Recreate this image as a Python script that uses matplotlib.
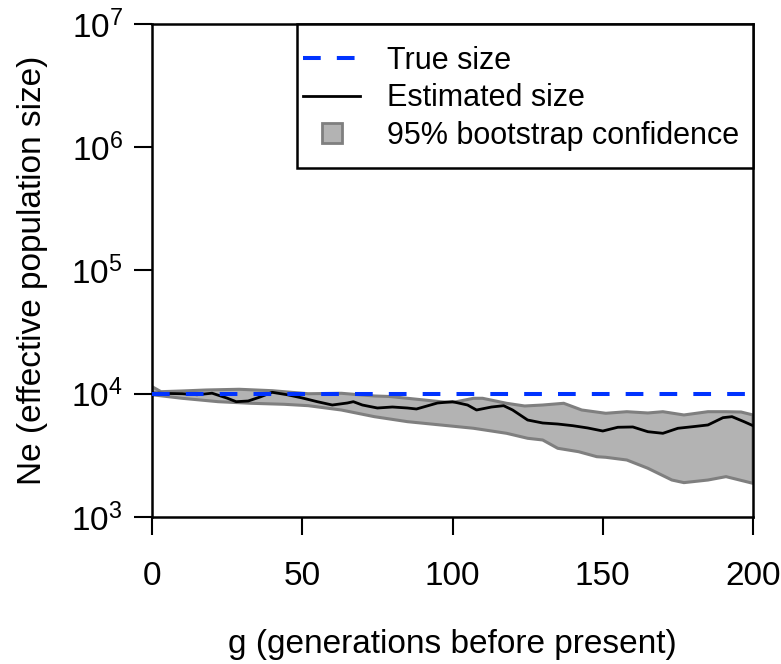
import numpy as np
import matplotlib
matplotlib.use("Agg")
import matplotlib.pyplot as plt
from matplotlib.lines import Line2D
from matplotlib.patches import Rectangle

plt.rcParams["font.family"] = ["Liberation Sans", "DejaVu Sans"]
plt.rcParams["mathtext.default"] = "regular"

# Estimated Ne (black line)
est_g = [0, 5, 10, 15, 20, 25, 28, 32, 36, 40, 45, 50, 55, 60, 65, 67, 70, 75, 80, 85,
         88, 95, 100, 105, 108, 113, 117, 120, 125, 130, 135, 140, 145, 150, 155, 160,
         165, 170, 175, 180, 185, 190, 193, 197, 200]
est_ne = [10140, 10050, 10000, 9815, 10100, 9210, 8620, 8730, 9410, 10270, 9815, 9240,
          8620, 8100, 8410, 8620, 8100, 7660, 7805, 7660, 7520, 8410, 8620, 8100, 7380,
          7805, 8000, 7380, 6120, 5790, 5680, 5505, 5275, 4985, 5345, 5375, 4920, 4775,
          5245, 5405, 5580, 6395, 6515, 5935, 5505]

# 95% bootstrap band, upper edge
up_g = [0, 3, 10, 18, 29, 40, 52, 63, 74, 79, 85, 96, 100, 107, 110, 118, 124, 130,
        137, 143, 151, 158, 165, 170, 177, 185, 191, 196, 200]
up_ne = [11420, 10390, 10530, 10725, 10870, 10585, 10000, 10085, 9590, 9500, 9185, 8620,
         8490, 9185, 9185, 8365, 7955, 8100, 8365, 7380, 6940, 7150, 6980, 7150, 6725,
         7150, 7150, 7110, 6725]

# 95% bootstrap band, lower edge
lo_g = [0, 10, 22, 33, 44, 52, 63, 74, 85, 96, 107, 118, 125, 130, 135, 142, 148, 151,
        158, 165, 173, 177, 185, 191, 200]
lo_ne = [9815, 9185, 8620, 8365, 8210, 8000, 7380, 6515, 5935, 5580, 5245, 4775, 4350,
         4215, 3610, 3385, 3085, 3050, 2900, 2485, 1995, 1900, 1995, 2125, 1875]

true_ne = 10000
x_ticks = [0, 50, 100, 150, 200]
y_ticks = [1e3, 1e4, 1e5, 1e6, 1e7]
y_labels = ["$10^{3}$", "$10^{4}$", "$10^{5}$", "$10^{6}$", "$10^{7}$"]

blue = "#0033ff"
fill_c = "#b3b3b3"
edge_c = "#7f7f7f"
dash = (0, (4.4, 4.0))

fig = plt.figure(figsize=(7.81, 6.64), dpi=100)
ax = fig.add_axes([0.1946, 0.2214, 0.7696, 0.7425])

band_x = np.concatenate([up_g, lo_g[::-1]])
band_y = np.concatenate([up_ne, lo_ne[::-1]])
ax.fill(band_x, band_y, facecolor=fill_c, edgecolor=edge_c, linewidth=2.2, zorder=1)
ax.plot(est_g, est_ne, color="black", linewidth=2.0, zorder=2)
ax.axhline(true_ne, color=blue, linewidth=2.9, linestyle=dash, zorder=3)

ax.set_yscale("log")
ax.set_xlim(0, 200)
ax.set_ylim(1e3, 1e7)
ax.set_xticks(x_ticks)
ax.set_xticklabels([str(t) for t in x_ticks])
ax.set_yticks(y_ticks)
ax.set_yticklabels(y_labels)
ax.minorticks_off()
ax.tick_params(axis="both", direction="out", length=13, width=1.5, labelsize=24)
ax.tick_params(axis="x", pad=19)
ax.tick_params(axis="y", pad=8)
for s in ax.spines.values():
    s.set_linewidth(1.8)

ax.set_xlabel("g (generations before present)", fontsize=24, labelpad=26)
ax.set_ylabel("Ne (effective population size)", fontsize=24, labelpad=17)

# legend: entries without frame, box drawn separately
handles = [
    Line2D([], [], color=blue, linewidth=2.9, linestyle=dash),
    Line2D([], [], color="black", linewidth=2.0),
    Line2D([], [], linestyle="none", marker="s", markersize=15,
           markerfacecolor=fill_c, markeredgecolor=edge_c, markeredgewidth=2.0),
]
leg = ax.legend(handles, ["True size", "Estimated size", "95% bootstrap confidence"],
                loc="upper left", bbox_to_anchor=(0.2413, 0.968), borderaxespad=0,
                fontsize=22, frameon=False, handlelength=1.86,
                handletextpad=0.88, labelspacing=0.25, borderpad=0.2)
ax.add_patch(Rectangle((0.2413, 0.708), 1 - 0.2413, 0.292, transform=ax.transAxes,
                       facecolor="white", edgecolor="black", linewidth=1.8,
                       zorder=4, clip_on=False))
leg.set_zorder(5)

fig.savefig("out.png", dpi=100)
